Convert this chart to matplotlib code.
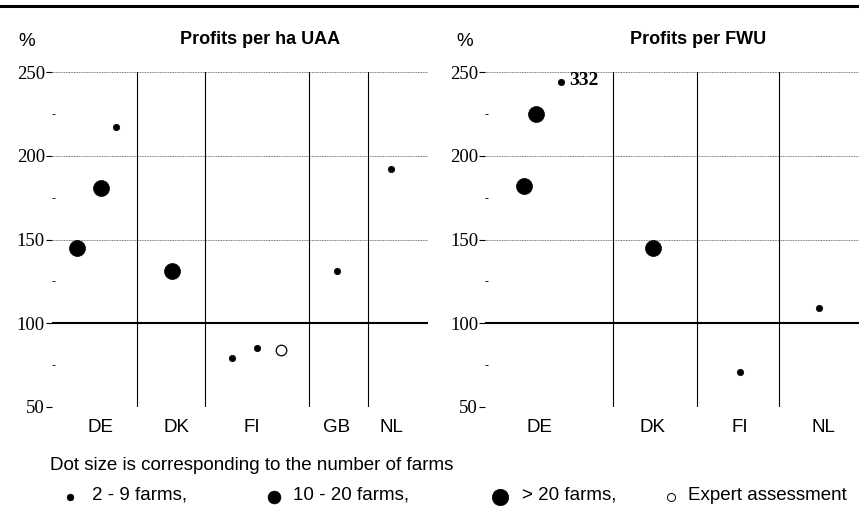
import matplotlib
matplotlib.use("Agg")
import matplotlib.pyplot as plt
from matplotlib.lines import Line2D

# ---------------- data ----------------
# Left panel: Profits per ha UAA (%)
uaa_categories = ["DE", "DK", "FI", "GB", "NL"]
uaa_point_cat = ["DE", "DE", "DE", "DK", "FI", "FI", "FI", "GB", "NL"]
uaa_values = [145, 181, 217, 131, 79, 85, 84, 131, 192]
uaa_class = ["large", "large", "small", "large", "small", "small", "expert", "small", "small"]

# Right panel: Profits per FWU (%)
fwu_categories = ["DE", "DK", "FI", "NL"]
fwu_point_cat = ["DE", "DE", "DE", "DK", "FI", "NL"]
fwu_values = [182, 225, 332, 145, 71, 109]
fwu_class = ["large", "large", "small", "large", "small", "small"]

y_ticks = [50, 100, 150, 200, 250]
y_minor = [75, 125, 175, 225]
y_max_shown = 250

legend_labels = ["2 - 9 farms,", "10 - 20 farms,", "> 20 farms,", "Expert assessment"]
legend_title = "Dot size is corresponding to the number of farms"

# ---------------- layout ----------------
# x layout within each panel (axis units 0..100)
uaa_bounds = [22.6, 40.7, 68.4, 84.0]
uaa_label_x = [12.8, 33.0, 53.2, 75.8, 90.4]
uaa_point_x = [6.6, 13.0, 17.0, 31.9, 47.9, 54.5, 60.9, 75.8, 90.2]

fwu_bounds = [34.2, 56.7, 78.6]
fwu_label_x = [14.7, 44.7, 68.2, 90.4]
fwu_point_x = [10.4, 13.6, 20.3, 44.9, 68.2, 89.3]

styles = {
    "small": dict(marker="o", ms=4.6, mfc="black", mec="black", mew=0.5),
    "medium": dict(marker="o", ms=8.8, mfc="black", mec="black", mew=0.5),
    "large": dict(marker="o", ms=11.5, mfc="black", mec="black", mew=0.5),
    "expert": dict(marker="o", ms=7.6, mfc="white", mec="black", mew=0.9),
}
legend_styles = {
    "small": dict(marker="o", ms=4.8, mfc="black", mec="black", mew=0.5),
    "medium": dict(marker="o", ms=9.2, mfc="black", mec="black", mew=0.5),
    "large": dict(marker="o", ms=11.8, mfc="black", mec="black", mew=0.5),
    "expert": dict(marker="o", ms=5.8, mfc="white", mec="black", mew=0.7),
}

SANS = "Liberation Sans"
SERIF = "Liberation Serif"

fig = plt.figure(figsize=(8.59, 5.09), dpi=100)
W, H = 859.0, 509.0

def panel(rect, title, title_x, pct_x, cats, label_x, bounds, px, vals, classes):
    ax = fig.add_axes(rect)
    ax.set_xlim(0, 100)
    ax.set_ylim(50, 250)
    for s in ax.spines.values():
        s.set_visible(False)
    for t in y_ticks:
        if t == 100:
            ax.axhline(t, color="black", lw=1.5, zorder=2)
        else:
            ax.axhline(t, color="#777777", lw=0.7, ls=(0, (1.0, 0.7)), zorder=1)
    for b in bounds:
        ax.plot([b, b], [50, 250], color="black", lw=0.8, zorder=2)
    ax.set_yticks(y_ticks)
    ax.set_yticklabels([str(t) for t in y_ticks], fontfamily=SERIF, fontsize=13.5)
    ax.set_yticks(y_minor, minor=True)
    ax.tick_params(axis="y", which="major", length=4, width=0.8, pad=1)
    ax.tick_params(axis="y", which="minor", length=2.2, width=0.6, direction="in")
    ax.set_xticks(label_x)
    ax.set_xticklabels(cats, fontfamily=SANS, fontsize=13.5)
    ax.tick_params(axis="x", length=0, pad=9)
    for x, v, c in zip(px, vals, classes):
        shown = min(v, y_max_shown - 6)
        ax.plot([x], [shown], ls="none", zorder=4, clip_on=False, **styles[c])
        if v > y_max_shown:
            ax.annotate(str(v), (x, shown), xytext=(6, 0.8), textcoords="offset points",
                        fontfamily=SERIF, fontsize=14, fontweight="bold", va="center")
    fig.text(pct_x / W, 1 - 42 / H, "%", fontfamily=SANS, fontsize=13.5,
             ha="center", va="center")
    fig.text(title_x / W, 1 - 40 / H, title, fontfamily=SANS, fontsize=13,
             fontweight="bold", ha="center", va="center")
    return ax

bottom = 0.2004
height = 0.6581
panel([0.0605, bottom, 0.4377, height], "Profits per ha UAA", 260, 27, uaa_categories,
      uaa_label_x, uaa_bounds, uaa_point_x, uaa_values, uaa_class)
panel([0.5646, bottom, 0.4354, height], "Profits per FWU", 698, 465, fwu_categories,
      fwu_label_x, fwu_bounds, fwu_point_x, fwu_values, fwu_class)

# top rule
fig.add_artist(Line2D([0, 1], [0.988, 0.988], color="black", lw=2.2, transform=fig.transFigure))

# legend
fig.text(50 / W, 1 - 465 / H, legend_title, fontfamily=SANS, fontsize=13.5, va="center")
leg_classes = ["small", "medium", "large", "expert"]
leg_dot_x = [70, 274, 500, 671]
leg_text_x = [92, 293, 522, 688]
for c, dx, tx, lab in zip(leg_classes, leg_dot_x, leg_text_x, legend_labels):
    fig.add_artist(Line2D([dx / W], [1 - 497 / H], transform=fig.transFigure, ls="none",
                          **legend_styles[c]))
    fig.text(tx / W, 1 - 495 / H, lab, fontfamily=SANS, fontsize=13.5, va="center")

fig.savefig("out.png", dpi=100)
